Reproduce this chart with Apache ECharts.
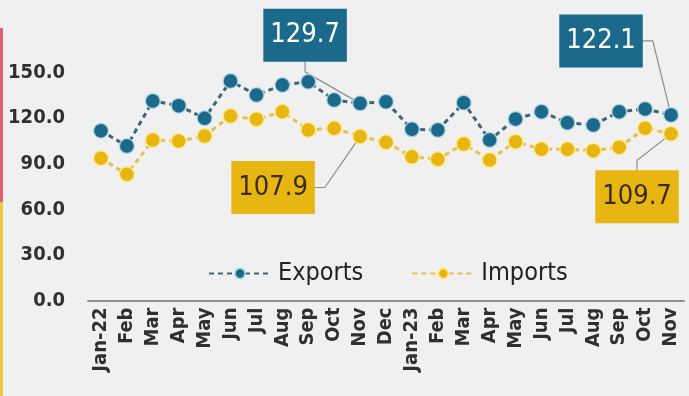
<!DOCTYPE html>
<html>
<head>
<meta charset="utf-8">
<script src="https://cdn.jsdelivr.net/npm/echarts@6/dist/echarts.min.js"></script>
<style>
  html, body { margin: 0; padding: 0; background: #f1f0f0; }
  #chart { width: 689px; height: 396px; }
</style>
</head>
<body>
<div id="chart"></div>
<script>
// Monthly trade indices, Jan-2022 to Nov-2023
const months = ['Jan-22', 'Feb', 'Mar', 'Apr', 'May', 'Jun', 'Jul', 'Aug', 'Sep', 'Oct', 'Nov', 'Dec',
                'Jan-23', 'Feb', 'Mar', 'Apr', 'May', 'Jun', 'Jul', 'Aug', 'Sep', 'Oct', 'Nov'];
const exportsIndex = [111.7, 101.6, 131.3, 128.2, 119.9, 144.4, 135.2, 141.8, 143.9, 131.9, 129.7, 130.8,
                      112.6, 112.2, 130.1, 105.6, 119.4, 124.2, 117.0, 115.5, 124.2, 126.0, 122.1];
const importsIndex = [93.6, 83.0, 105.6, 104.9, 108.2, 121.4, 119.2, 124.2, 112.2, 113.3, 107.9, 104.1,
                      94.6, 92.9, 103.0, 92.4, 104.5, 99.5, 99.5, 98.6, 100.8, 113.3, 109.7];
const yAxisMin = 0;
const yAxisMax = 150;
const yAxisStep = 30;
// months whose value is called out in a box
const calloutMonths = [10, 22];

const FONT = "'Liberation Sans Narrow', 'DejaVu Sans Condensed', 'Roboto Condensed', 'Liberation Sans', sans-serif";
const BLUE = '#1b6a8b';
const YELLOW = '#e8b612';

// offsets of each callout box from its point, per series
const calloutShift = [
  { 10: [-55, -68], 22: [-70, -74] },
  { 10: [-87, 51], 22: [-34, 63] }
];

function buildData(values, boxColor, textColor) {
  return values.map((v, i) => {
    if (!calloutMonths.includes(i)) return v;
    return {
      value: v,
      label: {
        show: true,
        position: 'inside',
        formatter: (p) => p.value.toFixed(1),
        backgroundColor: boxColor,
        color: textColor,
        fontFamily: FONT,
        fontSize: 27,
        lineHeight: 31,
        padding: [11, 7, 11, 7]
      },
      labelLine: {
        show: true,
        length2: 10,
        lineStyle: { color: '#8d8d8d', width: 1.2 }
      }
    };
  });
}

const chart = echarts.init(document.getElementById('chart'), null, { renderer: 'canvas' });

chart.setOption({
  backgroundColor: '#f1f0f0',
  animation: false,
  graphic: [
    { type: 'rect', left: 0, top: 28, shape: { width: 3, height: 174 }, style: { fill: '#e2606c' } },
    { type: 'rect', left: 0, top: 202, shape: { width: 3, height: 194 }, style: { fill: '#f0c63a' } }
  ],
  grid: { left: 88, right: 5, top: 72.5, bottom: 95.5, containLabel: false, outerBoundsMode: 'none' },
  legend: {
    data: ['Exports', 'Imports'],
    left: 203,
    top: 256,
    itemWidth: 62,
    itemHeight: 13,
    itemGap: 48,
    textStyle: { fontFamily: FONT, fontSize: 25, color: '#222', padding: [0, 0, 0, 2] }
  },
  xAxis: {
    type: 'category',
    data: months,
    boundaryGap: true,
    axisLine: { show: true, lineStyle: { color: '#8f8f8f', width: 2 } },
    axisTick: { show: false },
    axisLabel: {
      rotate: 90,
      margin: 7,
      interval: 0,
      fontFamily: FONT,
      fontSize: 20,
      fontWeight: 'bold',
      color: '#2f2f2f'
    }
  },
  yAxis: {
    type: 'value',
    min: yAxisMin,
    max: yAxisMax,
    interval: yAxisStep,
    axisLine: { show: false },
    axisTick: { show: false },
    splitLine: { show: false },
    axisLabel: {
      margin: 23,
      formatter: (v) => v.toFixed(1),
      fontFamily: FONT,
      fontSize: 20,
      fontWeight: 'bold',
      color: '#303030',
      padding: [8, 0, 0, 0]
    }
  },
  labelLayout: function (params) {
    const shift = calloutShift[params.seriesIndex] && calloutShift[params.seriesIndex][params.dataIndex];
    if (!shift) return {};
    return { dx: shift[0], dy: shift[1] };
  },
  series: [
    {
      name: 'Exports',
      type: 'line',
      data: buildData(exportsIndex, BLUE, '#ffffff'),
      symbol: 'circle',
      symbolSize: 15,
      itemStyle: { color: BLUE, borderColor: 'rgba(190,225,235,0.8)', borderWidth: 1.5 },
      lineStyle: { color: '#3a6677', width: 3, type: [5, 4] },
      z: 3
    },
    {
      name: 'Imports',
      type: 'line',
      data: buildData(importsIndex, YELLOW, '#3b2c10'),
      symbol: 'circle',
      symbolSize: 15,
      itemStyle: { color: YELLOW, borderColor: 'rgba(255,236,150,0.9)', borderWidth: 1.5 },
      lineStyle: { color: '#e6c04a', width: 3, type: [5, 4] },
      z: 2
    }
  ]
});
</script>
</body>
</html>
